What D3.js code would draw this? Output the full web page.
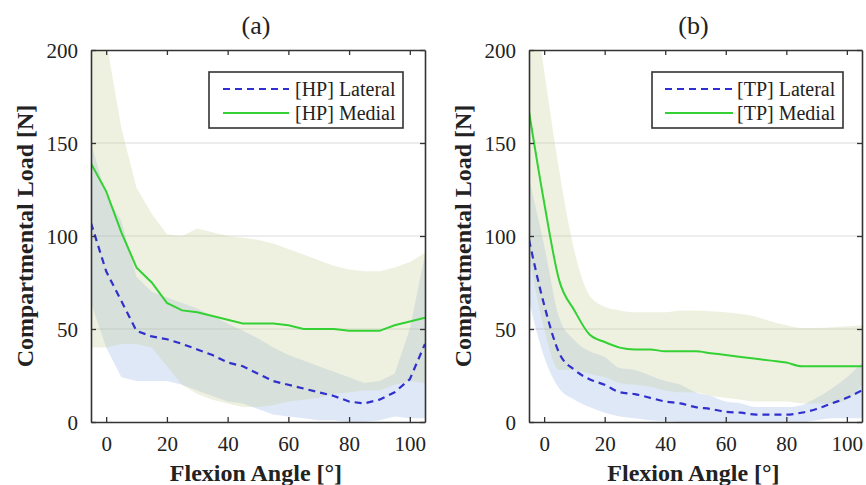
<!DOCTYPE html>
<html><head><meta charset="utf-8">
<script src="https://cdn.jsdelivr.net/npm/d3@7"></script>
<style>
html,body{margin:0;padding:0;background:#fff;}
svg{display:block;font-family:"Liberation Serif","Times New Roman",serif;}
</style></head>
<body><svg id="chart" width="866" height="485"></svg>
<script>
// ---- data ----
const angles = [-5,0,5,10,15,20,25,30,35,40,45,50,55,60,65,70,75,80,85,90,95,100,105];
const xTicks = [0,20,40,60,80,100];
const yTicks = [0,50,100,150,200];
const panelTitles = ["(a)","(b)"];
const legendA = ["[HP] Lateral","[HP] Medial"];
const legendB = ["[TP] Lateral","[TP] Medial"];

// (a) HP
const hpLatMean  = [107,81,65,49,46,44.5,42,39,36,32,30,26,22,20,18,16,14,11,10,12,16,23,42];
const hpLatUpper = [150,122,108,78,70,67,64,61,57,53,49,45,40,36,33,30,27,24,21,22,26,50,90];
const hpLatLower = [64,40,24,22,22,22,20,17,14,11,10,7,4,3,2,1,1,0,0,1,3,2,2];
const hpMedMean  = [139,124,102,83,75,64,60,59,57,55,53,53,53,52,50,50,50,49,49,49,52,54,56];
const hpMedUpper = [238,205,158,126,112,101,100,104,102,100,99,98,96,93,90,87,84,82,81,81,83,86,91];
const hpMedLower = [40,40,42,42,40,30,20,15,12,10,8,8,9,11,12,13,15,16,17,17,20,22,21];

// (b) TP
const tpLatMean  = [98,63,37,28,23,20,16,15,13,11,10,8,7,5.5,5,4,4,4,5,7,10,13,17];
const tpLatUpper = [131,95,56,44,38,35,29,28,25,22,20,16,14,11,10,8,8,8,9,13,18,24,32];
const tpLatLower = [65,35,18,12,8,5,3,2,1,0.5,0,0,0,0,0,0,0,0,0,1,2,2,2];
const tpMedMean  = [167,118,76,60,47,43,40,39,39,38,38,38,37,36,35,34,33,32,30,30,30,30,30];
const tpMedUpper = [245,189,135,92,68,62,60,59,59,59,60,60,59.5,59,58,56.6,54,52,50.5,50.5,51,51.5,52];
const tpMedLower = [90,50,28,28,26,24,21,20,19,17,16,16,14,13,12,11,11,11,10,10,10,12,20];

const svg = d3.select("#chart");

function panel(opts){
  const {left,right,top,bottom,id,title,legend,latMean,latUp,latLo,medMean,medUp,medLo,legBox,legLineX,legTextX,yLabelX,curve} = opts;
  const x = d3.scaleLinear().domain([-5,105]).range([left,right]);
  const y = d3.scaleLinear().domain([0,200]).range([bottom,top]);
  const g = svg.append("g");
  g.append("clipPath").attr("id","clip"+id).append("rect")
    .attr("x",left).attr("y",top).attr("width",right-left).attr("height",bottom-top);

  // grid
  g.selectAll(".grid").data([50,100,150]).enter().append("line")
    .attr("x1",left).attr("x2",right).attr("y1",d=>y(d)).attr("y2",d=>y(d))
    .attr("stroke","#dcdcdc").attr("stroke-width",1.2);

  const pts = angles.map((a,i)=>i);
  const area = (up,lo)=>d3.area().curve(curve).x(i=>x(angles[i])).y0(i=>y(lo[i])).y1(i=>y(up[i]));
  const cg = g.append("g").attr("clip-path","url(#clip"+id+")");
  cg.append("path").datum(pts).attr("d",area(latUp,latLo))
    .attr("fill","rgb(150,180,230)").attr("fill-opacity",0.3);
  cg.append("path").datum(pts).attr("d",area(medUp,medLo))
    .attr("fill","rgb(195,205,140)").attr("fill-opacity",0.27);

  const line = arr=>d3.line().curve(curve).x(i=>x(angles[i])).y(i=>y(arr[i]));
  cg.append("path").datum(pts).attr("d",line(medMean))
    .attr("fill","none").attr("stroke","#33d133").attr("stroke-width",2);
  cg.append("path").datum(pts).attr("d",line(latMean))
    .attr("fill","none").attr("stroke","#3030cc").attr("stroke-width",2.2)
    .attr("stroke-dasharray","7,5");

  // axes
  const axB = g.append("g").attr("transform",`translate(0,${bottom})`)
    .call(d3.axisBottom(x).tickValues(xTicks).tickSize(-5).tickPadding(14).tickSizeOuter(0));
  const axT = g.append("g").attr("transform",`translate(0,${top})`)
    .call(d3.axisTop(x).tickValues(xTicks).tickSize(-5).tickFormat("").tickSizeOuter(0));
  const axL = g.append("g").attr("transform",`translate(${left},0)`)
    .call(d3.axisLeft(y).tickValues(yTicks).tickSize(-5).tickPadding(13).tickSizeOuter(0));
  const axR = g.append("g").attr("transform",`translate(${right},0)`)
    .call(d3.axisRight(y).tickValues(yTicks).tickSize(-5).tickFormat("").tickSizeOuter(0));
  [axB,axT,axL,axR].forEach(a=>{
    a.select(".domain").attr("stroke","#333").attr("stroke-width",1.6);
    a.selectAll(".tick line").attr("stroke","#333").attr("stroke-width",1.3);
    a.selectAll("text").attr("font-family","Liberation Serif").attr("font-size",21).attr("fill","#222");
  });
  axL.selectAll("text").attr("dy","0.34em");

  // titles/labels
  g.append("text").attr("x",(left+right)/2 - 2).attr("y",34).attr("text-anchor","middle")
    .attr("font-size",26).attr("fill","#222").text(title);
  g.append("text").attr("x",(left+right)/2 - 2).attr("y",481).attr("text-anchor","middle")
    .attr("font-size",24).attr("font-weight","bold").attr("fill","#222").text("Flexion Angle [°]");
  g.append("text").attr("transform",`translate(${yLabelX},${(top+bottom)/2}) rotate(-90)`)
    .attr("text-anchor","middle").attr("font-size",24).attr("font-weight","bold").attr("fill","#222")
    .text("Compartmental Load [N]");

  // legend
  g.append("rect").attr("x",legBox[0]).attr("y",legBox[1]).attr("width",legBox[2]).attr("height",legBox[3])
    .attr("fill","#fff").attr("stroke","#333").attr("stroke-width",1.6);
  const rows = [legBox[1]+17, legBox[1]+41];
  g.append("line").attr("x1",legLineX[0]).attr("x2",legLineX[1]).attr("y1",rows[0]).attr("y2",rows[0])
    .attr("stroke","#3030cc").attr("stroke-width",2.2).attr("stroke-dasharray","7,5");
  g.append("line").attr("x1",legLineX[0]).attr("x2",legLineX[1]).attr("y1",rows[1]).attr("y2",rows[1])
    .attr("stroke","#33d133").attr("stroke-width",2);
  legend.forEach((t,i)=>{
    g.append("text").attr("x",legTextX).attr("y",rows[i]).attr("dy","0.33em")
      .attr("font-size",20).attr("fill","#222").text(t);
  });
}

panel({left:91,right:425,top:50,bottom:422,id:"a",title:panelTitles[0],legend:legendA,
  latMean:hpLatMean,latUp:hpLatUpper,latLo:hpLatLower,medMean:hpMedMean,medUp:hpMedUpper,medLo:hpMedLower,
  legBox:[209,72,194,56],legLineX:[223,289],legTextX:295,yLabelX:33,curve:d3.curveLinear});
panel({left:529,right:862,top:50,bottom:422,id:"b",title:panelTitles[1],legend:legendB,
  latMean:tpLatMean,latUp:tpLatUpper,latLo:tpLatLower,medMean:tpMedMean,medUp:tpMedUpper,medLo:tpMedLower,
  legBox:[652,72,191,56],legLineX:[665,733],legTextX:737,yLabelX:471,curve:d3.curveMonotoneX});
</script></body></html>
